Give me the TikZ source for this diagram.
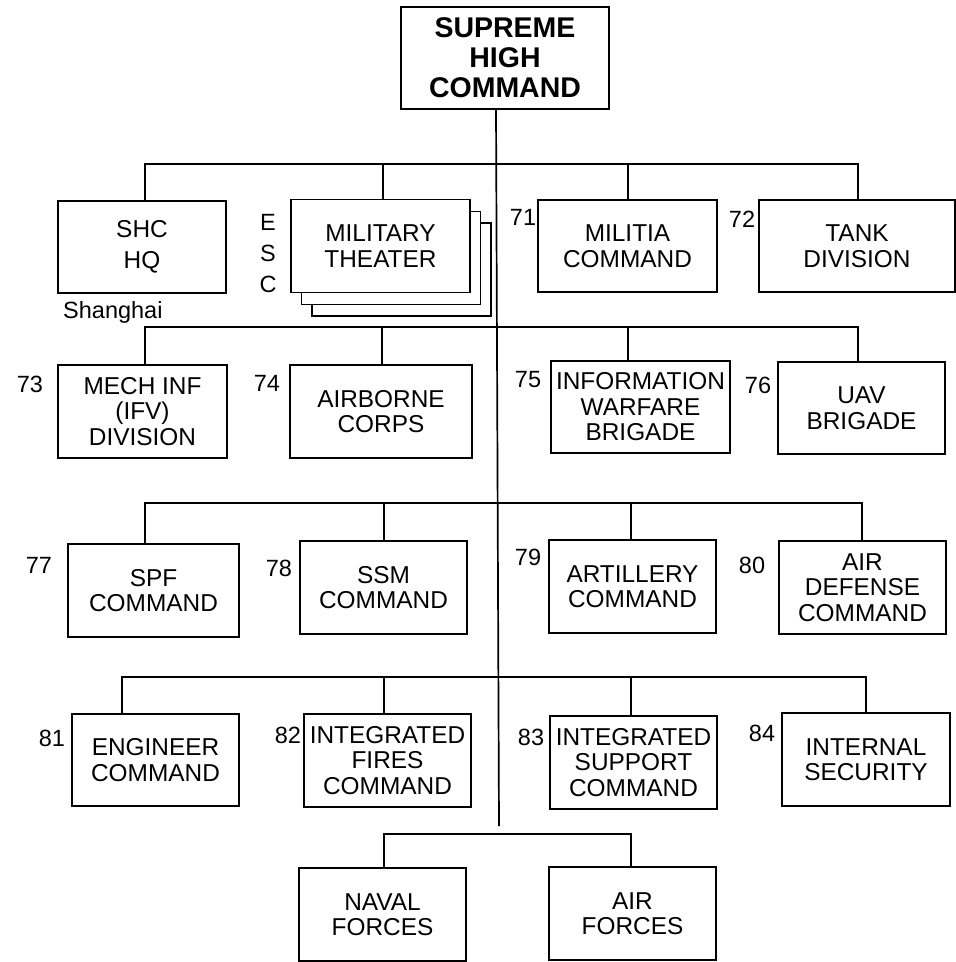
\documentclass[tikz,border=0pt]{standalone}
\usepackage{fontspec}
\setmainfont{Liberation Sans}
\begin{document}
\begin{tikzpicture}[x=1pt,y=-1pt,
  box/.style={draw,line width=1.7pt,fill=white,inner sep=0pt,align=center,
    font=\fontsize{24.4}{25.5}\selectfont},
  lbl/.style={inner sep=0pt,font=\fontsize{23.5}{24}\selectfont},
  conn/.style={line width=1.7pt}]
\useasboundingbox (0,0) rectangle (956,962);
% top
\node[box,minimum width=208,minimum height=102,font=\bfseries\fontsize{28.5}{30}\selectfont] (sup) at (505,58) {SUPREME\\HIGH\\COMMAND};
\coordinate (mtop) at (496,109);
\coordinate (mbot) at (499,826);
\draw[conn] (mtop) -- (mbot);
% row 1
\node[box,minimum width=168,minimum height=92] (shc) at (142,247) {SHC\\[5pt]HQ};
\node[box,minimum width=179,minimum height=93] (mt3) at (401.5,269.5) {};
\node[box,minimum width=179,minimum height=93] (mt2) at (391,258) {};
\node[box,minimum width=179,minimum height=93] (mt) at (380.5,246) {MILITARY\\THEATER};
\node[box,minimum width=179,minimum height=92] (mil) at (627.5,246) {MILITIA\\COMMAND};
\node[box,minimum width=196,minimum height=92] (tank) at (857,246) {TANK\\DIVISION};
\coordinate (b1l) at (145,164);
\coordinate (b1r) at (858,164);
\draw[conn] (shc.north -| b1l) -- (b1l) -- (b1r) -- (tank.north -| b1r);
\draw[conn] (mt.north -| 383,0) -- (383,164);
\draw[conn] (mil.north -| 628,0) -- (628,164);
\node[lbl] (e) at (268,222) {E};
\node[lbl] (s) at (268,253) {S};
\node[lbl] (c) at (268,284) {C};
\node[lbl,anchor=west] (sh) at (63,312) {Shanghai};
\node[lbl] (n71) at (523,217) {71};
\node[lbl] (n72) at (742,219) {72};
% row 2
\node[box,minimum width=169,minimum height=93] (mech) at (142.5,411.5) {MECH INF\\(IFV)\\DIVISION};
\node[box,minimum width=182,minimum height=93] (airb) at (381,411.5) {AIRBORNE\\CORPS};
\node[box,minimum width=179,minimum height=92] (info) at (640.5,407) {INFORMATION\\WARFARE\\BRIGADE};
\node[box,minimum width=167,minimum height=92] (uav) at (861.5,408) {UAV\\BRIGADE};
\coordinate (b2l) at (145,327);
\coordinate (b2r) at (858,327);
\draw[conn] (mech.north -| b2l) -- (b2l) -- (b2r) -- (uav.north -| b2r);
\draw[conn] (airb.north -| 382,0) -- (382,327);
\draw[conn] (info.north -| 628,0) -- (628,327);
\node[lbl] (n73) at (30,384) {73};
\node[lbl] (n74) at (267,383) {74};
\node[lbl] (n75) at (528,380) {75};
\node[lbl] (n76) at (758,385) {76};
% row 3
\node[box,minimum width=171,minimum height=93] (spf) at (153.5,590.5) {SPF\\COMMAND};
\node[box,minimum width=167,minimum height=93] (ssm) at (383.5,587.5) {SSM\\COMMAND};
\node[box,minimum width=167,minimum height=93] (art) at (632.5,586.5) {ARTILLERY\\COMMAND};
\node[box,minimum width=167,minimum height=93] (ad) at (862.5,587.5) {AIR\\DEFENSE\\COMMAND};
\coordinate (b3l) at (145,503);
\coordinate (b3r) at (862,503);
\draw[conn] (spf.north -| b3l) -- (b3l) -- (b3r) -- (ad.north -| b3r);
\draw[conn] (ssm.north -| 384,0) -- (384,503);
\draw[conn] (art.north -| 631,0) -- (631,503);
\node[lbl] (n77) at (39,565) {77};
\node[lbl] (n78) at (279,568) {78};
\node[lbl] (n79) at (528,557) {79};
\node[lbl] (n80) at (752,565) {80};
% row 4
\node[box,minimum width=167,minimum height=92] (eng) at (155.5,760) {ENGINEER\\COMMAND};
\node[box,minimum width=167,minimum height=93] (ifc) at (387.5,760.5) {INTEGRATED\\FIRES\\COMMAND};
\node[box,minimum width=167,minimum height=93] (isc) at (633.5,762.5) {INTEGRATED\\SUPPORT\\COMMAND};
\node[box,minimum width=168,minimum height=93] (ints) at (866,759.5) {INTERNAL\\SECURITY};
\coordinate (b4l) at (122,677);
\coordinate (b4r) at (866,677);
\draw[conn] (eng.north -| b4l) -- (b4l) -- (b4r) -- (ints.north -| b4r);
\draw[conn] (ifc.north -| 384,0) -- (384,677);
\draw[conn] (isc.north -| 631,0) -- (631,677);
\node[lbl] (n81) at (52,738) {81};
\node[lbl] (n82) at (288,735) {82};
\node[lbl] (n83) at (531,737) {83};
\node[lbl] (n84) at (762,733) {84};
% row 5
\node[box,minimum width=167,minimum height=93] (nav) at (382.5,914.5) {NAVAL\\FORCES};
\node[box,minimum width=167,minimum height=93] (af) at (632.5,913.5) {AIR\\FORCES};
\coordinate (b5l) at (384,834);
\coordinate (b5r) at (631,834);
\draw[conn] (nav.north -| b5l) -- (b5l) -- (b5r) -- (af.north -| b5r);
\end{tikzpicture}
\end{document}
